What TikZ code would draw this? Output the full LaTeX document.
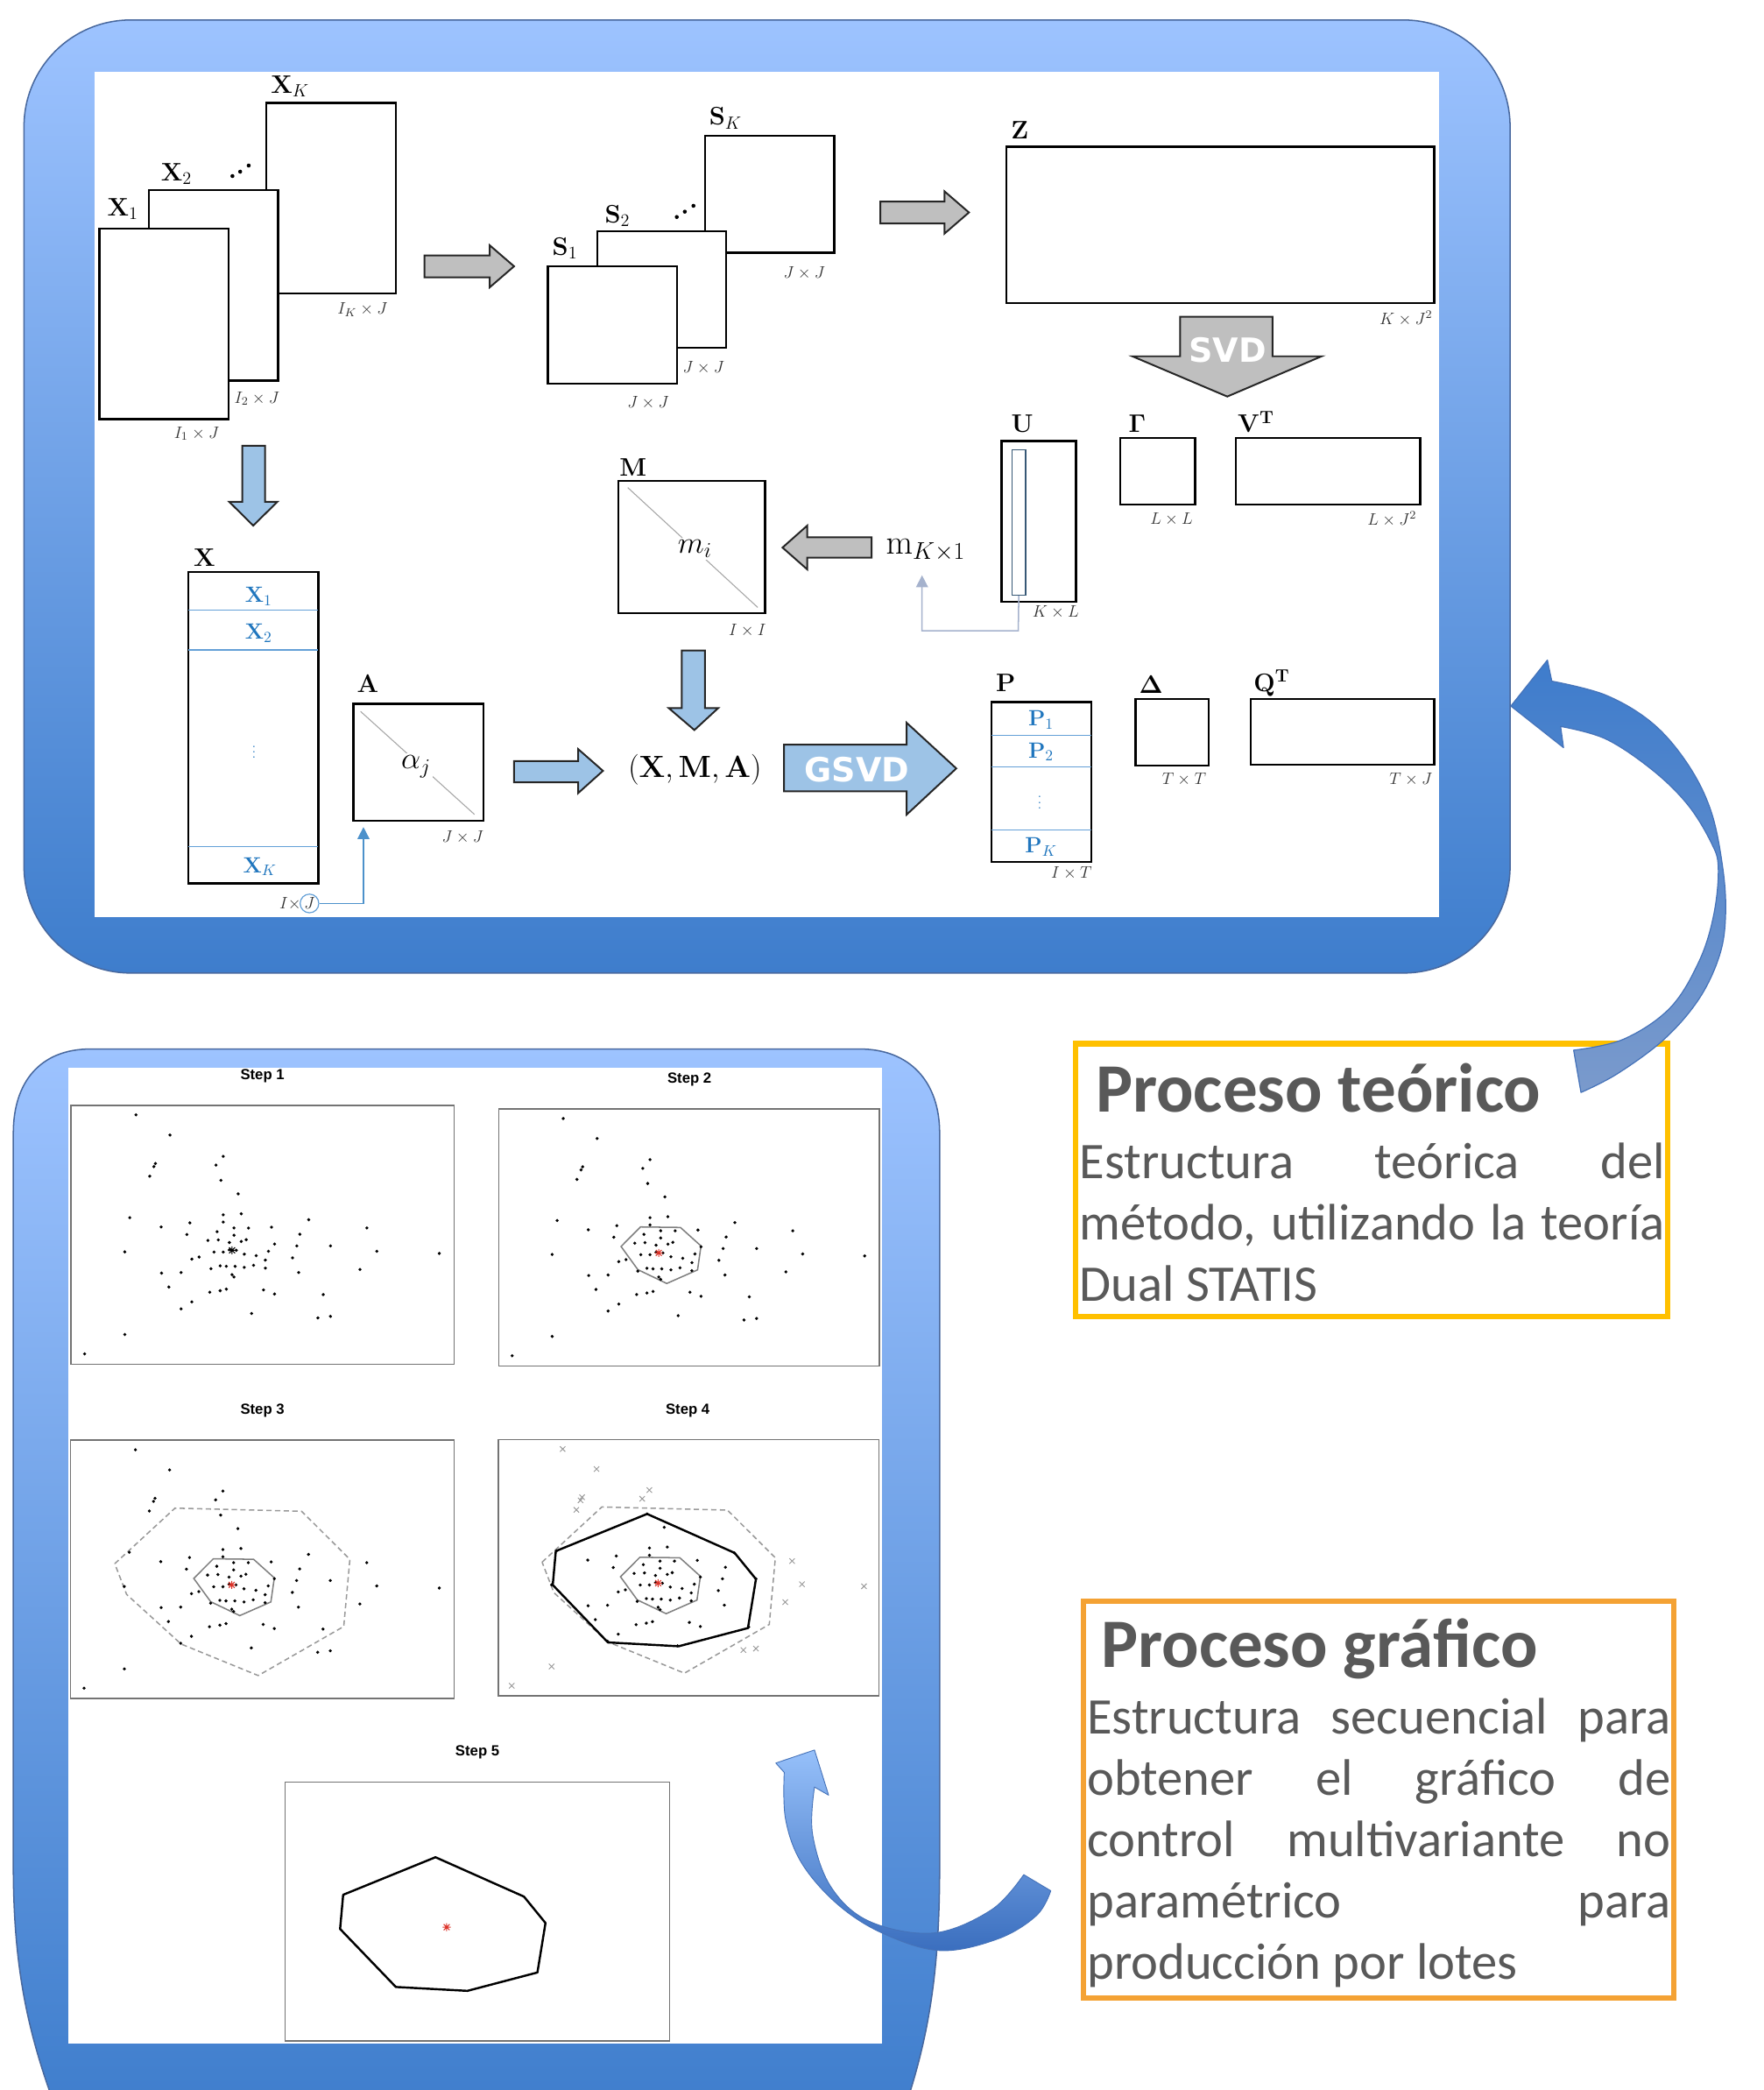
\RequirePackage{fix-cm}
\documentclass[tikz,border=0pt]{standalone}
\usepackage[no-math]{fontspec}
\usetikzlibrary{arrows.meta}
\newfontfamily\calibri{Carlito}
\newfontfamily\dejavu{DejaVu Sans}
\newfontfamily\arialf{Liberation Sans}
\newcommand\fsz[1]{\fontsize{#1}{#1}\selectfont}

\definecolor{panelTop}{RGB}{157,195,255}
\definecolor{panelBot}{RGB}{62,125,204}
\definecolor{panelEdge}{RGB}{72,104,158}
\definecolor{arrGray}{RGB}{191,191,191}
\definecolor{arrBlue}{RGB}{157,195,230}
\definecolor{subBlue}{RGB}{32,118,190}
\definecolor{lineBlue}{RGB}{100,160,215}
\definecolor{linkGray}{RGB}{165,178,205}
\definecolor{txtGray}{RGB}{89,89,89}
\definecolor{boxYellow}{RGB}{255,192,0}
\definecolor{boxOrange}{RGB}{244,162,52}
\definecolor{bigTop}{RGB}{62,124,204}
\definecolor{bigBot}{RGB}{122,154,204}
\definecolor{bigEdge}{RGB}{70,115,185}
\definecolor{smTop}{RGB}{150,192,250}
\definecolor{smBot}{RGB}{58,110,190}
\definecolor{plotRed}{RGB}{220,50,40}

\tikzset{
  mat/.style={draw=black, line width=1.5pt, fill=white, inner sep=0pt, outer sep=0pt, anchor=north west},
  matname/.style={font=\fsz{19}, inner sep=0pt},
  dimlabel/.style={font=\fsz{12.5}, text=black!80, inner sep=0pt},
  sublabel/.style={font=\fsz{16.5}, text=subBlue, inner sep=0pt},
  subline/.style={draw=lineBlue, line width=0.8pt},
  diagline/.style={draw=black!35, line width=0.7pt},
  grayblock/.style={fill=arrGray, draw=black!85, line width=1.3pt, line join=miter},
  blueblock/.style={fill=arrBlue, draw=black!85, line width=1.3pt, line join=miter},
  blocktext/.style={font=\dejavu\bfseries\fsz{25}, text=white, inner sep=0pt},
  plotframe/.style={draw=black!55, line width=1pt, fill=white},
  steptitle/.style={font=\arialf\bfseries\fsz{11}, inner sep=0pt},
  titletext/.style={font=\calibri\bfseries\fsz{52}, text=txtGray, inner sep=0pt, anchor=base west},
  bodytext/.style={font=\calibri\fsz{38.5}, text=txtGray, inner sep=0pt, anchor=base west},
  textframe/.style={fill=white, line width=4pt, inner sep=0pt, outer sep=0pt, anchor=north west},
}

% sample data shared by the five control charts (unit square, v downwards)
\def\innerpts{0.391/0.290, 0.436/0.342, 0.153/0.434, 0.397/0.423, 0.444/0.419,
 0.620/0.442, 0.310/0.454, 0.235/0.470, 0.397/0.451, 0.425/0.474, 0.463/0.474,
 0.523/0.471, 0.302/0.499, 0.381/0.488, 0.425/0.502, 0.357/0.522, 0.384/0.520,
 0.413/0.530, 0.444/0.526, 0.457/0.519, 0.597/0.498, 0.531/0.536, 0.589/0.543,
 0.677/0.543, 0.140/0.566, 0.373/0.567, 0.397/0.567, 0.413/0.558, 0.431/0.560,
 0.452/0.575, 0.483/0.581, 0.515/0.564, 0.334/0.586, 0.315/0.594, 0.507/0.598,
 0.578/0.589, 0.389/0.620, 0.405/0.622, 0.428/0.622, 0.452/0.626, 0.476/0.618,
 0.507/0.629, 0.365/0.631, 0.236/0.648, 0.287/0.646, 0.420/0.654, 0.425/0.663,
 0.594/0.646, 0.255/0.702, 0.362/0.722, 0.389/0.716, 0.405/0.710, 0.502/0.713,
 0.531/0.729, 0.658/0.731, 0.315/0.759, 0.287/0.786, 0.471/0.804}
\def\outerpts{0.169/0.037, 0.258/0.115, 0.397/0.197, 0.378/0.231, 0.220/0.225,
 0.216/0.237, 0.205/0.274, 0.772/0.474, 0.798/0.564, 0.961/0.572, 0.754/0.634,
 0.644/0.821, 0.677/0.815, 0.140/0.885, 0.035/0.960}

\newcommand\plotInner{\foreach \u/\v in \innerpts {\fill (\u,\v) circle[radius=1.25pt];}}
\newcommand\plotOuter{\foreach \u/\v in \outerpts {\fill (\u,\v) circle[radius=1.25pt];}}
\newcommand\plotCross{\foreach \u/\v in \outerpts {\draw[black!40, line width=0.6pt] (\u,\v) ++(-2pt,-2pt) -- ++(4pt,4pt) ++(-4pt,0pt) -- ++(4pt,-4pt);}}
\newcommand\plotStar[1]{\draw[#1, line width=0.7pt]
  (0.42,0.56) ++(-3pt,0pt) -- ++(6pt,0pt)
  (0.42,0.56) ++(0pt,-3pt) -- ++(0pt,6pt)
  (0.42,0.56) ++(-2.2pt,-2.2pt) -- ++(4.4pt,4.4pt)
  (0.42,0.56) ++(-2.2pt,2.2pt) -- ++(4.4pt,-4.4pt);}
\newcommand\hullInner{\draw[black!50, line width=1pt] (0.372,0.459) -- (0.477,0.461) -- (0.531,0.533) -- (0.522,0.626) -- (0.441,0.679) -- (0.365,0.625) -- (0.321,0.535) -- cycle;}
\newcommand\hullDashed{\draw[black!40, line width=1pt, dash pattern=on 4pt off 2.5pt] (0.115,0.478) -- (0.272,0.263) -- (0.602,0.275) -- (0.728,0.461) -- (0.712,0.721) -- (0.489,0.911) -- (0.288,0.789) -- (0.146,0.597) -- cycle;}
\newcommand\hullFinal{\draw[black, line width=1.6pt, line join=round] (0.391,0.290) -- (0.621,0.442) -- (0.677,0.544) -- (0.656,0.735) -- (0.474,0.806) -- (0.288,0.791) -- (0.143,0.567) -- (0.151,0.435) -- cycle;}

\begin{document}
\begin{tikzpicture}[x=1pt, y=-1pt]
\useasboundingbox (0,0) rectangle (1323,1568);
\clip (0,0) rectangle (1323,1568);

% ---------- frames ----------
\shadedraw[top color=panelTop, bottom color=panelBot, draw=panelEdge, line width=1pt, rounded corners=80pt]
  (18,15) rectangle (1133,730);
\fill[white] (71,54) rectangle (1080,688);

\shadedraw[top color=panelTop, bottom color=panelBot, draw=panelEdge, line width=1pt]
  (10,850) .. controls (10,812) and (30,787) .. (68,787) -- (645,787)
  .. controls (683,787) and (705,812) .. (705,850) -- (705,1400)
  .. controls (705,1480) and (697,1530) .. (676,1590) -- (45,1590)
  .. controls (22,1530) and (10,1480) .. (10,1400) -- cycle;
\fill[white] (51,801) rectangle (662,1533);

% ---------- stacked X_k ----------
\node[mat, minimum width=97pt, minimum height=143pt] (XK) at (200,77.3) {};
\node[mat, minimum width=97pt, minimum height=143pt] (X2) at (111.7,142.6) {};
\node[mat, minimum width=97pt, minimum height=143pt] (X1) at (74.5,171.5) {};
\node[matname] (lXK) at (217.6,64.6) {$\mathbf{X}_K$};
\node[matname] (lX2) at (132.4,130.3) {$\mathbf{X}_2$};
\node[matname] (lX1) at (92.1,156.6) {$\mathbf{X}_1$};
\foreach \p in {(174.4,132.1),(180.2,128.8),(186.6,124.2)} \fill \p circle[radius=1.5pt];
\node[dimlabel] (dXK) at (272,232.2) {$I_K\times J$};
\node[dimlabel] (dX2) at (192.7,299) {$I_2\times J$};
\node[dimlabel] (dX1) at (147.5,325.3) {$I_1\times J$};

% ---------- stacked S_k ----------
\node[mat, minimum width=97pt, minimum height=87.5pt] (SK) at (529,102) {};
\node[mat, minimum width=97pt, minimum height=87.5pt] (S2) at (448,173.5) {};
\node[mat, minimum width=97pt, minimum height=88pt] (S1) at (411,200) {};
\node[matname] (lSK) at (544.4,88.7) {$\mathbf{S}_K$};
\node[matname] (lS2) at (463.3,162.1) {$\mathbf{S}_2$};
\node[matname] (lS1) at (423.9,186.2) {$\mathbf{S}_1$};
\foreach \p in {(507.8,162.8),(513.8,158.8),(520.3,154.4)} \fill \p circle[radius=1.5pt];
\node[dimlabel] (dSK) at (603.5,204.8) {$J\times J$};
\node[dimlabel] (dS2) at (527.9,276) {$J\times J$};
\node[dimlabel] (dS1) at (486.3,302.3) {$J\times J$};

% ---------- Z ----------
\node[mat, minimum width=320.8pt, minimum height=117.2pt] (Z) at (755.3,110) {};
\node[matname] (lZ) at (765.2,97.5) {$\mathbf{Z}$};
\node[dimlabel] (dZ) at (1055,238.8) {$K\times J^2$};

% ---------- SVD factors ----------
\node[mat, minimum width=55.9pt, minimum height=120.5pt] (U) at (751.5,330.8) {};
\node[draw=black!45!lineBlue, line width=0.9pt, inner sep=0pt, anchor=north west, minimum width=10.3pt, minimum height=109.1pt] (Uin) at (758.8,337) {};
\node[matname] (lU) at (767,317.7) {$\mathbf{U}$};
\node[dimlabel] (dU) at (792.1,459) {$K\times L$};
\node[mat, minimum width=55.9pt, minimum height=50pt] (G) at (840.7,328.6) {};
\node[matname] (lG) at (853.2,317.7) {$\mathbf{\Gamma}$};
\node[dimlabel] (dG) at (879,389.5) {$L\times L$};
\node[mat, minimum width=138.5pt, minimum height=50pt] (VT) at (927.1,328.6) {};
\node[matname] (lVT) at (942.3,316.6) {$\mathbf{V}^{\mathbf{T}}$};
\node[dimlabel] (dVT) at (1044.4,389.5) {$L\times J^2$};

% ---------- M ----------
\node[mat, minimum width=110.2pt, minimum height=99pt] (M) at (463.8,361) {};
\draw[diagline] (471,365.8) -- (568.5,455.7);
\node[fill=white, inner sep=1.5pt, font=\fsz{23}] (mi) at (521.4,411.8) {$m_i$};
\node[matname] (lM) at (475,350.5) {$\mathbf{M}$};
\node[dimlabel] (dM) at (560.8,473.2) {$I\times I$};
\node[font=\fsz{26}, inner sep=0pt] (mk) at (694.5,413) {$\mathrm{m}_{K\times 1}$};
\coordinate (mkfoot) at (691.8,431.6);
\coordinate (c1) at (764,473.2);
\coordinate (c2) at (691.8,473.2);
\draw[linkGray, line width=1pt, -{Triangle[width=9pt,length=9pt]}] (Uin.south) -- (c1) -- (c2) -- (mkfoot);

% ---------- X and A ----------
\node[mat, minimum width=97.5pt, minimum height=233.5pt] (X) at (141.3,429.3) {};
\draw[subline] (141.3,457.7) -- (238.8,457.7);
\draw[subline] (141.3,487.6) -- (238.8,487.6);
\draw[subline] (141.3,635.2) -- (238.8,635.2);
\node[matname] (lX) at (153.4,418.5) {$\mathbf{X}$};
\node[sublabel] (sX1) at (194,447.3) {$\mathbf{X}_1$};
\node[sublabel] (sX2) at (194,475) {$\mathbf{X}_2$};
\node[sublabel, font=\fsz{10}] (sXd) at (190.6,561.4) {$\vdots$};
\node[sublabel] (sXK) at (195,650.2) {$\mathbf{X}_K$};
\node[dimlabel, anchor=east] (dX) at (226,677.8) {$I\times$};
\node[circle, draw=lineBlue, line width=0.8pt, inner sep=0pt, minimum size=14pt, font=\fsz{12.5}, text=black!80] (Jc) at (232.2,677.8) {$J$};

\node[mat, minimum width=97.5pt, minimum height=87.6pt] (A) at (265.1,528) {};
\draw[diagline] (270.5,533.7) -- (356,611);
\node[fill=white, inner sep=1.5pt, font=\fsz{23}] (aj) at (312.2,575.2) {$\alpha_j$};
\node[matname] (lA) at (276,513) {$\mathbf{A}$};
\node[dimlabel] (dA) at (347.2,628.3) {$J\times J$};
\coordinate (ja) at (272.7,677.8);
\coordinate (afoot) at (272.7,620.5);
\draw[subBlue!80, line width=1pt, -{Triangle[width=9pt,length=9pt]}] (Jc.east) -- (ja) -- (afoot);

\node[font=\fsz{23}, inner sep=0pt] (XMA) at (521.4,577.2) {$(\mathbf{X},\mathbf{M},\mathbf{A})$};

% ---------- P, Delta, Q ----------
\node[mat, minimum width=74.7pt, minimum height=119.9pt] (P) at (744,526.8) {};
\draw[subline] (744,551.6) -- (818.7,551.6);
\draw[subline] (744,575.5) -- (818.7,575.5);
\draw[subline] (744,622.6) -- (818.7,622.6);
\node[matname] (lP) at (754.6,512.6) {$\mathbf{P}$};
\node[sublabel] (sP1) at (781.1,540) {$\mathbf{P}_1$};
\node[sublabel] (sP2) at (781.1,564.1) {$\mathbf{P}_2$};
\node[sublabel, font=\fsz{10}] (sPd) at (780,599.1) {$\vdots$};
\node[sublabel] (sPK) at (781.1,635.3) {$\mathbf{P}_K$};
\node[dimlabel] (dP) at (803.9,655) {$I\times T$};
\node[mat, minimum width=55.1pt, minimum height=49.8pt] (D) at (852,524.6) {};
\node[matname] (lD) at (863.7,513.7) {$\mathbf{\Delta}$};
\node[dimlabel] (dD) at (888.4,584.9) {$T\times T$};
\node[mat, minimum width=137.7pt, minimum height=49.3pt] (QT) at (938.4,524.6) {};
\node[matname] (lQT) at (954.1,512.6) {$\mathbf{Q}^{\mathbf{T}}$};
\node[dimlabel] (dQT) at (1058.5,584.9) {$T\times J$};

% ---------- block arrows ----------
\filldraw[grayblock] (318.5,191.7) -- (367.4,191.7) -- (367.4,184) -- (385.7,199.8) -- (367.4,215.6) -- (367.4,208.1) -- (318.5,208.1) -- cycle;
\filldraw[grayblock] (660.5,151.2) -- (708.6,151.2) -- (708.6,143.5) -- (727,159.4) -- (708.6,175.3) -- (708.6,167.6) -- (660.5,167.6) -- cycle;
\filldraw[grayblock] (885.5,237.7) -- (954.8,237.7) -- (954.8,267.3) -- (991.6,267.3) -- (920.8,297.5) -- (849.6,267.3) -- (885.5,267.3) -- cycle;
\node[blocktext] (tSVD) at (921.2,262.9) {SVD};
\filldraw[grayblock] (587.1,410.8) -- (605.7,394.3) -- (605.7,403.1) -- (654,403.1) -- (654,418.4) -- (605.7,418.4) -- (605.7,427.2) -- cycle;
\filldraw[blueblock] (181.8,334.4) -- (198.9,334.4) -- (198.9,376.5) -- (208.1,376.5) -- (190,394.3) -- (172,376.5) -- (181.8,376.5) -- cycle;
\filldraw[blueblock] (511.5,488) -- (529,488) -- (529,531.2) -- (538.9,531.2) -- (521,547.7) -- (501.7,531.2) -- (511.5,531.2) -- cycle;
\filldraw[blueblock] (385.6,571) -- (433.8,571) -- (433.8,562) -- (452.4,578.3) -- (433.8,595) -- (433.8,587) -- (385.6,587) -- cycle;
\filldraw[blueblock] (588.2,558.6) -- (680.2,558.6) -- (680.2,542.2) -- (717.5,576.5) -- (680.2,611.2) -- (680.2,593.7) -- (588.2,593.7) -- cycle;
\node[blocktext] (tGSVD) at (643,577.2) {GSVD};

% ---------- control chart steps ----------
\node[steptitle] (st1) at (196.9,807.3) {Step 1};
\node[steptitle] (st2) at (517.3,809.9) {Step 2};
\node[steptitle] (st3) at (196.9,1058) {Step 3};
\node[steptitle] (st4) at (516,1058) {Step 4};
\node[steptitle] (st5) at (358.2,1314.8) {Step 5};

\begin{scope}[shift={(53.4,829.2)}, x={(287.4pt,0pt)}, y={(0pt,-194.3pt)}]
  \draw[plotframe] (0,0) rectangle (1,1);
  \plotInner \plotOuter \plotStar{black}
\end{scope}
\begin{scope}[shift={(374.3,832)}, x={(285.6pt,0pt)}, y={(0pt,-192.8pt)}]
  \draw[plotframe] (0,0) rectangle (1,1);
  \hullInner \plotInner \plotOuter \plotStar{plotRed}
\end{scope}
\begin{scope}[shift={(53,1080.5)}, x={(287.8pt,0pt)}, y={(0pt,-193.8pt)}]
  \draw[plotframe] (0,0) rectangle (1,1);
  \hullDashed \hullInner \plotInner \plotOuter \plotStar{plotRed}
\end{scope}
\begin{scope}[shift={(373.9,1080)}, x={(285.5pt,0pt)}, y={(0pt,-192.4pt)}]
  \draw[plotframe] (0,0) rectangle (1,1);
  \hullDashed \hullInner \hullFinal \plotInner \plotCross \plotStar{plotRed}
\end{scope}
\begin{scope}[shift={(213.9,1337)}, x={(288.6pt,0pt)}, y={(0pt,-194.3pt)}]
  \draw[plotframe] (0,0) rectangle (1,1);
  \hullFinal \plotStar{plotRed}
\end{scope}

% ---------- captions ----------
\node[textframe, draw=boxYellow, minimum width=444pt, minimum height=205pt] (teo) at (807,783) {};
\node[titletext] (teoT) at (822,834) {Proceso teórico};
\node[bodytext] (teo1) at (810,884) {\makebox[439pt][s]{Estructura teórica del}};
\node[bodytext] (teo2) at (810,930) {\makebox[439pt][s]{método, utilizando la teoría}};
\node[bodytext] (teo3) at (810,976) {Dual STATIS};

\node[textframe, draw=boxOrange, minimum width=443pt, minimum height=298pt] (gra) at (813,1201) {};
\node[titletext] (graT) at (826,1251) {Proceso gráfico};
\node[bodytext] (gra1) at (815.5,1301) {\makebox[438pt][s]{Estructura secuencial para}};
\node[bodytext] (gra2) at (815.5,1347) {\makebox[438pt][s]{obtener el gráfico de}};
\node[bodytext] (gra3) at (815.5,1393) {\makebox[438pt][s]{control multivariante no}};
\node[bodytext] (gra4) at (815.5,1439) {\makebox[438pt][s]{paramétrico para}};
\node[bodytext] (gra5) at (815.5,1485) {producción por lotes};

% ---------- curved ribbon arrows ----------
\shadedraw[top color=bigTop, bottom color=bigBot, draw=bigEdge, line width=0.8pt, line join=round]
  plot[smooth, tension=0.6] coordinates {(1164.3,511.0) (1204.8,521.5) (1239.9,542.6) (1266.2,573.1) (1283.7,608.3) (1292.5,650.6) (1294.7,685.8) (1290.3,716.3) (1274.9,749.2) (1248.6,779.7) (1213.6,805.5) (1186.2,819.6)}
  -- plot[smooth, tension=0.6] coordinates {(1180.7,787.9) (1218.0,779.7) (1253.0,756.2) (1274.9,721.0) (1285.9,685.8) (1289.2,650.6) (1283.7,631.8) (1266.2,603.6) (1239.9,577.8) (1204.8,554.4) (1170.9,545.0)}
  -- (1173.1,560.9) -- (1133.6,529.7) -- (1161.0,495.2) -- cycle;

\shadedraw[top color=smTop, bottom color=smBot, draw=bigEdge, line width=0.6pt, line join=round]
  (611.1,1312.9) -- (621.7,1346.8) -- (611.1,1340.7)
  -- plot[smooth, tension=0.6] coordinates {(611.1,1340.7) (609.6,1375.7) (623.2,1415.2) (652.2,1441.4) (700.5,1450.2) (744,1432.7) (768.1,1406.4)}
  -- (788.4,1418.5)
  -- plot[smooth, tension=0.6] coordinates {(788.4,1418.5) (777.8,1437) (748.8,1454.6) (705.3,1463.4) (661.8,1450.2) (628,1428.3) (601.4,1397.6) (589.4,1364.8) (588.4,1329.7)}
  -- (582.1,1322.7) -- cycle;
\end{tikzpicture}
\end{document}
